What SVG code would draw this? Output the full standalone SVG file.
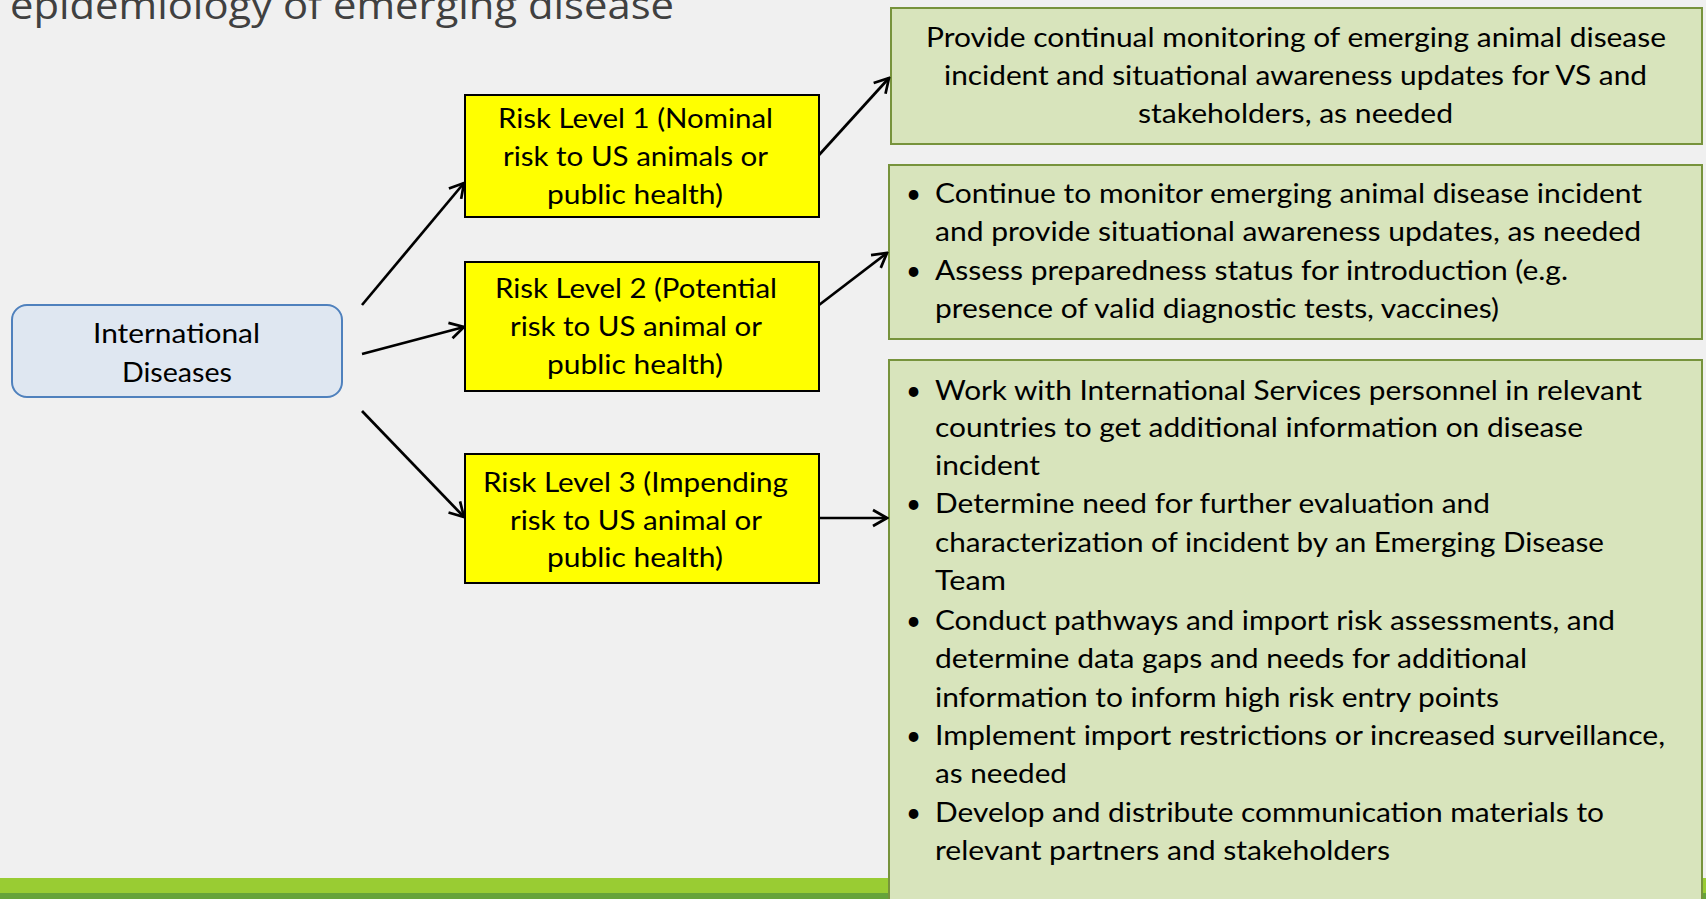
<svg xmlns="http://www.w3.org/2000/svg" width="1706" height="899" viewBox="0 0 1706 899">
<style>
.t{font-family:Lato,"Open Sans","Liberation Sans",sans-serif;font-size:26px;fill:#000}
.title{font-family:"Open Sans",Lato,"Liberation Sans",sans-serif;font-size:38px;fill:#404040}
.yel{fill:#ffff00;stroke:#000;stroke-width:2}
.grn{fill:#d8e4bc;stroke:#77933c;stroke-width:2}
.blu{fill:#dfe7f1;stroke:#4f81bd;stroke-width:2}
.con line{stroke:#000;stroke-width:2.7;marker-end:url(#arr)}
</style>
<defs>
<marker id="arr" viewBox="-17 -10 19 20" refX="0" refY="0" markerWidth="19" markerHeight="20" markerUnits="userSpaceOnUse" orient="auto">
<path d="M-14,-8 L0,0 L-14,8" fill="none" stroke="#000" stroke-width="2.7"/>
</marker>
</defs>
<rect x="0" y="0" width="1706" height="899" fill="#f0f0f0"/>
<rect x="0" y="878" width="1706" height="15" fill="#99cc33"/>
<rect x="0" y="893" width="1706" height="6" fill="#66a33a"/>
<text class="title" x="10" y="19" textLength="664" lengthAdjust="spacingAndGlyphs">epidemiology of emerging disease</text>

<g id="intl">
<rect class="blu" x="12" y="305" width="330" height="92" rx="15"/>
<text class="t" x="93" y="343" textLength="167" lengthAdjust="spacingAndGlyphs">International</text>
<text class="t" x="122" y="382" textLength="110" lengthAdjust="spacingAndGlyphs">Diseases</text>
</g>

<g id="risk1">
<rect class="yel" x="465" y="95" width="354" height="122"/>
<text class="t" x="498" y="128" textLength="275" lengthAdjust="spacingAndGlyphs">Risk Level 1 (Nominal</text>
<text class="t" x="503" y="166" textLength="265" lengthAdjust="spacingAndGlyphs">risk to US animals or</text>
<text class="t" x="547" y="204" textLength="176" lengthAdjust="spacingAndGlyphs">public health)</text>
</g>
<g id="risk2">
<rect class="yel" x="465" y="262" width="354" height="129"/>
<text class="t" x="495" y="298" textLength="282" lengthAdjust="spacingAndGlyphs">Risk Level 2 (Potential</text>
<text class="t" x="510" y="336" textLength="252" lengthAdjust="spacingAndGlyphs">risk to US animal or</text>
<text class="t" x="547" y="374" textLength="176" lengthAdjust="spacingAndGlyphs">public health)</text>
</g>
<g id="risk3">
<rect class="yel" x="465" y="454" width="354" height="129"/>
<text class="t" x="483" y="492" textLength="305" lengthAdjust="spacingAndGlyphs">Risk Level 3 (Impending</text>
<text class="t" x="510" y="530" textLength="252" lengthAdjust="spacingAndGlyphs">risk to US animal or</text>
<text class="t" x="547" y="567" textLength="176" lengthAdjust="spacingAndGlyphs">public health)</text>
</g>

<g id="act1">
<rect class="grn" x="891" y="8" width="811" height="136"/>
<text class="t" x="926" y="47" textLength="740" lengthAdjust="spacingAndGlyphs">Provide continual monitoring of emerging animal disease</text>
<text class="t" x="944" y="85" textLength="703" lengthAdjust="spacingAndGlyphs">incident and situational awareness updates for VS and</text>
<text class="t" x="1138" y="123" textLength="315" lengthAdjust="spacingAndGlyphs">stakeholders, as needed</text>
</g>

<g id="act2">
<rect class="grn" x="889" y="165" width="813" height="174"/>
<text class="t" x="906" y="203">•</text>
<text class="t" x="935" y="203" textLength="707" lengthAdjust="spacingAndGlyphs">Continue to monitor emerging animal disease incident</text>
<text class="t" x="935" y="241" textLength="706" lengthAdjust="spacingAndGlyphs">and provide situational awareness updates, as needed</text>
<text class="t" x="906" y="280">•</text>
<text class="t" x="935" y="280" textLength="633" lengthAdjust="spacingAndGlyphs">Assess preparedness status for introduction (e.g.</text>
<text class="t" x="935" y="318" textLength="564" lengthAdjust="spacingAndGlyphs">presence of valid diagnostic tests, vaccines)</text>
</g>

<g id="act3">
<rect class="grn" x="889" y="360" width="813" height="560"/>
<text class="t" x="906" y="400">•</text>
<text class="t" x="935" y="400" textLength="707" lengthAdjust="spacingAndGlyphs">Work with International Services personnel in relevant</text>
<text class="t" x="935" y="437" textLength="648" lengthAdjust="spacingAndGlyphs">countries to get additional information on disease</text>
<text class="t" x="935" y="475" textLength="105" lengthAdjust="spacingAndGlyphs">incident</text>
<text class="t" x="906" y="513">•</text>
<text class="t" x="935" y="513" textLength="555" lengthAdjust="spacingAndGlyphs">Determine need for further evaluation and</text>
<text class="t" x="935" y="552" textLength="669" lengthAdjust="spacingAndGlyphs">characterization of incident by an Emerging Disease</text>
<text class="t" x="935" y="590" textLength="71" lengthAdjust="spacingAndGlyphs">Team</text>
<text class="t" x="906" y="630">•</text>
<text class="t" x="935" y="630" textLength="680" lengthAdjust="spacingAndGlyphs">Conduct pathways and import risk assessments, and</text>
<text class="t" x="935" y="668" textLength="592" lengthAdjust="spacingAndGlyphs">determine data gaps and needs for additional</text>
<text class="t" x="935" y="707" textLength="564" lengthAdjust="spacingAndGlyphs">information to inform high risk entry points</text>
<text class="t" x="906" y="745">•</text>
<text class="t" x="935" y="745" textLength="730" lengthAdjust="spacingAndGlyphs">Implement import restrictions or increased surveillance,</text>
<text class="t" x="935" y="783" textLength="132" lengthAdjust="spacingAndGlyphs">as needed</text>
<text class="t" x="906" y="822">•</text>
<text class="t" x="935" y="822" textLength="669" lengthAdjust="spacingAndGlyphs">Develop and distribute communication materials to</text>
<text class="t" x="935" y="860" textLength="455" lengthAdjust="spacingAndGlyphs">relevant partners and stakeholders</text>
</g>

<g id="connectors" class="con">
<line x1="362" y1="305" x2="464" y2="183"/>
<line x1="362" y1="354" x2="464" y2="327"/>
<line x1="362" y1="411" x2="464" y2="517"/>
<line x1="819" y1="155" x2="889" y2="78"/>
<line x1="819" y1="305" x2="887" y2="253"/>
<line x1="819" y1="518" x2="887" y2="518"/>
</g>
</svg>
